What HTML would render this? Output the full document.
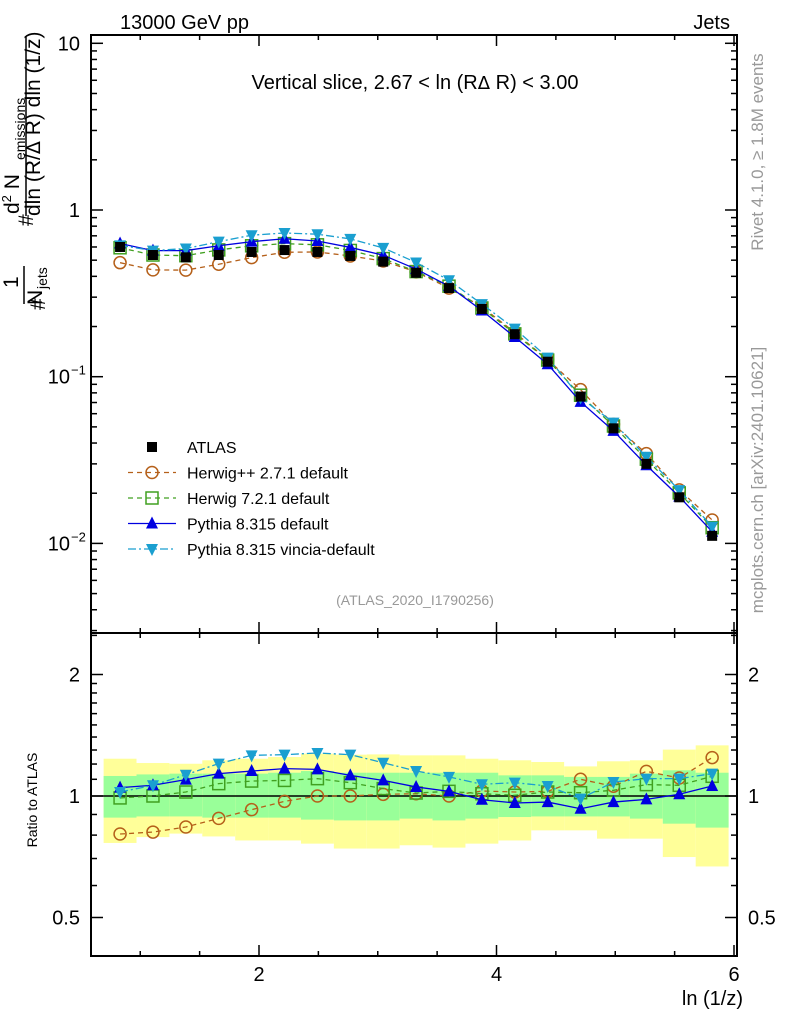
<!DOCTYPE html>
<html><head><meta charset="utf-8"><style>
html,body{margin:0;padding:0;background:#fff;}
svg{display:block;font-family:"Liberation Sans",sans-serif;}
</style></head><body>
<svg id="chart" width="786" height="1024" viewBox="0 0 786 1024">
<g id="bands"></g>
<g id="grid"></g>
<g id="series"></g>
<text x="120" y="29" font-size="20">13000 GeV pp</text>
<text x="730" y="29" font-size="20" text-anchor="end">Jets</text>
<text x="415" y="89" font-size="20" text-anchor="middle">Vertical slice, 2.67 &lt; ln (R<tspan font-family="DejaVu Sans" font-size="18">Δ</tspan> R) &lt; 3.00</text>
<text x="415" y="605" font-size="14" fill="#999" text-anchor="middle">(ATLAS_2020_I1790256)</text>
<text transform="translate(763,152) rotate(-90)" font-size="17" fill="#999" text-anchor="middle">Rivet 4.1.0, ≥ 1.8M events</text>
<text transform="translate(763,480) rotate(-90)" font-size="17" fill="#999" text-anchor="middle">mcplots.cern.ch [arXiv:2401.10621]</text>
<g font-size="21">
 <text transform="translate(45,310) rotate(-90)">#</text>
 <text transform="translate(18,288) rotate(-90)">1</text>
 <line x1="24" y1="304" x2="24" y2="266" stroke="#000" stroke-width="1.5"/>
 <text transform="translate(42,305) rotate(-90)">N</text>
 <text transform="translate(47,289) rotate(-90)" font-size="14">jets</text>
 <text transform="translate(33,226) rotate(-90)">#</text>
 <text transform="translate(19,214) rotate(-90)">d<tspan font-size="13" dy="-8">2</tspan><tspan dy="8"> N</tspan></text>
 <text transform="translate(25,160) rotate(-90)" font-size="14">emissions</text>
 <line x1="26" y1="216" x2="26" y2="36" stroke="#000" stroke-width="1.5"/>
 <text transform="translate(40,216) rotate(-90)">dln (R/<tspan font-family="DejaVu Sans" font-size="19">Δ</tspan> R) dln (1/z)</text>
</g>
<text transform="translate(37,800) rotate(-90)" font-size="14" text-anchor="middle">Ratio to ATLAS</text>
<text x="743" y="1005" font-size="20" text-anchor="end">ln (1/z)</text>
<g id="legend"></g>
</svg>
<script>
const xCenters=[0.83,1.107,1.384,1.661,1.938,2.215,2.492,2.769,3.046,3.323,3.6,3.877,4.154,4.431,4.708,4.985,5.262,5.539,5.816];
const atlas=[0.60,0.537,0.52,0.537,0.56,0.575,0.56,0.53,0.49,0.42,0.34,0.255,0.18,0.123,0.076,0.049,0.030,0.0189,0.0111];
const ratioHerwigPP=[0.805,0.814,0.838,0.880,0.925,0.970,1.0,1.0,1.0095,1.013,1.0,1.029,1.023,1.027,1.100,1.057,1.151,1.108,1.245];
const ratioHerwig7=[0.989,1.0,1.023,1.073,1.089,1.093,1.104,1.079,1.043,1.017,1.027,1.013,1.004,1.023,1.019,1.033,1.067,1.063,1.119];
const ratioPythia=[1.049,1.063,1.098,1.136,1.153,1.169,1.164,1.125,1.093,1.053,1.027,0.979,0.961,0.966,0.930,0.966,0.981,1.010,1.059];
const ratioVincia=[1.023,1.063,1.129,1.203,1.261,1.266,1.278,1.266,1.209,1.153,1.115,1.069,1.079,1.059,0.985,1.083,1.104,1.104,1.136];
const yellowHi=[1.237,1.207,1.202,1.226,1.237,1.249,1.273,1.266,1.268,1.261,1.261,1.237,1.226,1.214,1.184,1.219,1.226,1.303,1.335];
const yellowLo=[0.765,0.791,0.807,0.794,0.776,0.776,0.762,0.741,0.741,0.755,0.745,0.762,0.776,0.822,0.822,0.784,0.784,0.706,0.669];
const greenHi=[1.121,1.131,1.136,1.136,1.136,1.142,1.153,1.142,1.142,1.142,1.142,1.142,1.125,1.125,1.115,1.115,1.136,1.158,1.142];
const greenLo=[0.884,0.890,0.890,0.884,0.884,0.884,0.874,0.870,0.870,0.879,0.870,0.879,0.887,0.890,0.890,0.890,0.879,0.854,0.835];
const binW=0.277;
const NS='http://www.w3.org/2000/svg';
const L=91,R=737,T=35,MB=633,B=956;
const X=v=>21.5+v*118.75;
const Y=v=>210-Math.log10(v)*166.7;
const YR=v=>796-Math.log10(v)*403.6;
function mk(parent,tag,attrs){const e=document.createElementNS(NS,tag);for(const k in attrs)e.setAttribute(k,attrs[k]);document.getElementById(parent).appendChild(e);return e;}
for(let i=0;i<xCenters.length;i++){
 const x0=Math.max(L,X(xCenters[i]-binW/2)),x1=X(xCenters[i]+binW/2);
 let r=mk('bands','rect',{x:x0,y:YR(yellowHi[i]),width:x1-x0,height:YR(yellowLo[i])-YR(yellowHi[i]),fill:'#ffff99'});
 
 
 let g=mk('bands','rect',{x:x0,y:YR(greenHi[i]),width:x1-x0,height:YR(greenLo[i])-YR(greenHi[i]),fill:'#99ff99'});
 
 
}
mk('grid','rect',{x:L,y:T,width:R-L,height:MB-T,fill:'none',stroke:'#000','stroke-width':2});
mk('grid','rect',{x:L,y:MB,width:R-L,height:B-MB,fill:'none',stroke:'#000','stroke-width':2});
mk('grid','line',{x1:L,y1:YR(1),x2:R,y2:YR(1),stroke:'#000','stroke-width':1.5});
for(let v=1;v<=6;v+=0.5){const x=X(v);if(x<L||x>R)continue;const len=(v%2===0)?11:5;
 for(const [yb,dir] of [[MB,-1],[T,1],[B,-1],[MB,1]]) mk('grid','line',{x1:x,y1:yb,x2:x,y2:yb+dir*len,stroke:'#000','stroke-width':1.5});
 if(v%2===0){const t=mk('grid','text',{x:x,y:981,'font-size':20,'text-anchor':'middle'});t.textContent=v;}}
for(let d=-3;d<=1;d++){for(let m=1;m<=9;m++){const v=m*Math.pow(10,d);const y=Y(v);if(y<T||y>MB)continue;const len=m===1?12:6;
 mk('grid','line',{x1:L,y1:y,x2:L+len,y2:y,stroke:'#000','stroke-width':1.5});
 mk('grid','line',{x1:R,y1:y,x2:R-len,y2:y,stroke:'#000','stroke-width':1.5});}}
[[10,'10'],[1,'1'],[0.1,'10'],[0.01,'10']].forEach(([v,s],i)=>{const t=mk('grid','text',{x:i===0||i===1?80:70,y:Y(v)+7,'font-size':20,'text-anchor':'end'});t.textContent=s;
 if(i>1){const e=mk('grid','text',{x:71,y:Y(v)-2,'font-size':13});e.textContent=i===2?'−1':'−2';}});
[0.4,0.5,0.6,0.7,0.8,0.9,1,1.1,1.2,1.3,1.4,1.5,1.6,1.7,1.8,1.9,2,2.5].forEach(v=>{const y=YR(v);if(y<MB||y>B)return;const maj=(v===0.5||v===1||v===2);const len=maj?12:6;
 mk('grid','line',{x1:L,y1:y,x2:L+len,y2:y,stroke:'#000','stroke-width':1.5});
 mk('grid','line',{x1:R,y1:y,x2:R-len,y2:y,stroke:'#000','stroke-width':1.5});
 if(maj){const s=String(v);let t=mk('grid','text',{x:80,y:y+7,'font-size':20,'text-anchor':'end'});t.textContent=s;
  t=mk('grid','text',{x:748,y:y+7,'font-size':20});t.textContent=s;}});
const series=[
 {name:'herwigpp',r:ratioHerwigPP,col:'#b5601a',dash:'5,4',mark:'circle'},
 {name:'herwig7',r:ratioHerwig7,col:'#40a020',dash:'5,4',mark:'square'},
 {name:'pythia',r:ratioPythia,col:'#0000e0',dash:'',mark:'up'},
 {name:'vincia',r:ratioVincia,col:'#1a9fd0',dash:'8,3,2,3',mark:'down'}];
function marker(g,type,x,y,col){
 let e;
 if(type==='circle')e=mk(g,'circle',{cx:x,cy:y,r:6,fill:'none',stroke:col,'stroke-width':1.5});
 else if(type==='square')e=mk(g,'rect',{x:x-6,y:y-6,width:12,height:12,fill:'none',stroke:col,'stroke-width':1.5});
 else if(type==='up')e=mk(g,'polygon',{points:`${x},${y-7} ${x-6},${y+5} ${x+6},${y+5}`,fill:col});
 else if(type==='down')e=mk(g,'polygon',{points:`${x},${y+7} ${x-6},${y-5} ${x+6},${y-5}`,fill:col});
 else e=mk(g,'rect',{x:x-5,y:y-5,width:10,height:10,fill:col});
 return e;}
series.forEach(s=>{
 const pm=xCenters.map((v,i)=>X(v)+','+Y(atlas[i]*s.r[i])).join(' ');
 const pr=xCenters.map((v,i)=>X(v)+','+YR(s.r[i])).join(' ');
 for(const p of [pm,pr]){const l=mk('series','polyline',{points:p,fill:'none',stroke:s.col,'stroke-width':1.3,'stroke-dasharray':s.dash});
  
  }
 xCenters.forEach((v,i)=>{
  const m1=marker('series',s.mark,X(v),Y(atlas[i]*s.r[i]),s.col);
  
  
  const m2=marker('series',s.mark,X(v),YR(s.r[i]),s.col);
  
  });
});
xCenters.forEach((v,i)=>{const m=marker('series','sq',X(v),Y(atlas[i]),'#000');
 
 });
const leg=[['ATLAS','#000','','sq'],['Herwig++ 2.7.1 default','#b5601a','5,4','circle'],['Herwig 7.2.1 default','#40a020','5,4','square'],['Pythia 8.315 default','#0000e0','','up'],['Pythia 8.315 vincia-default','#1a9fd0','8,3,2,3','down']];
leg.forEach((e,i)=>{const y=447+i*25.5;
 if(i>0)mk('legend','line',{x1:128,y1:y,x2:176,y2:y,stroke:e[1],'stroke-width':1.3,'stroke-dasharray':e[2]});
 marker('legend',e[3],152,y,e[1]);
 const t=mk('legend','text',{x:187,y:y+6,'font-size':16});t.textContent=e[0];
 
 });
</script>
</body></html>
